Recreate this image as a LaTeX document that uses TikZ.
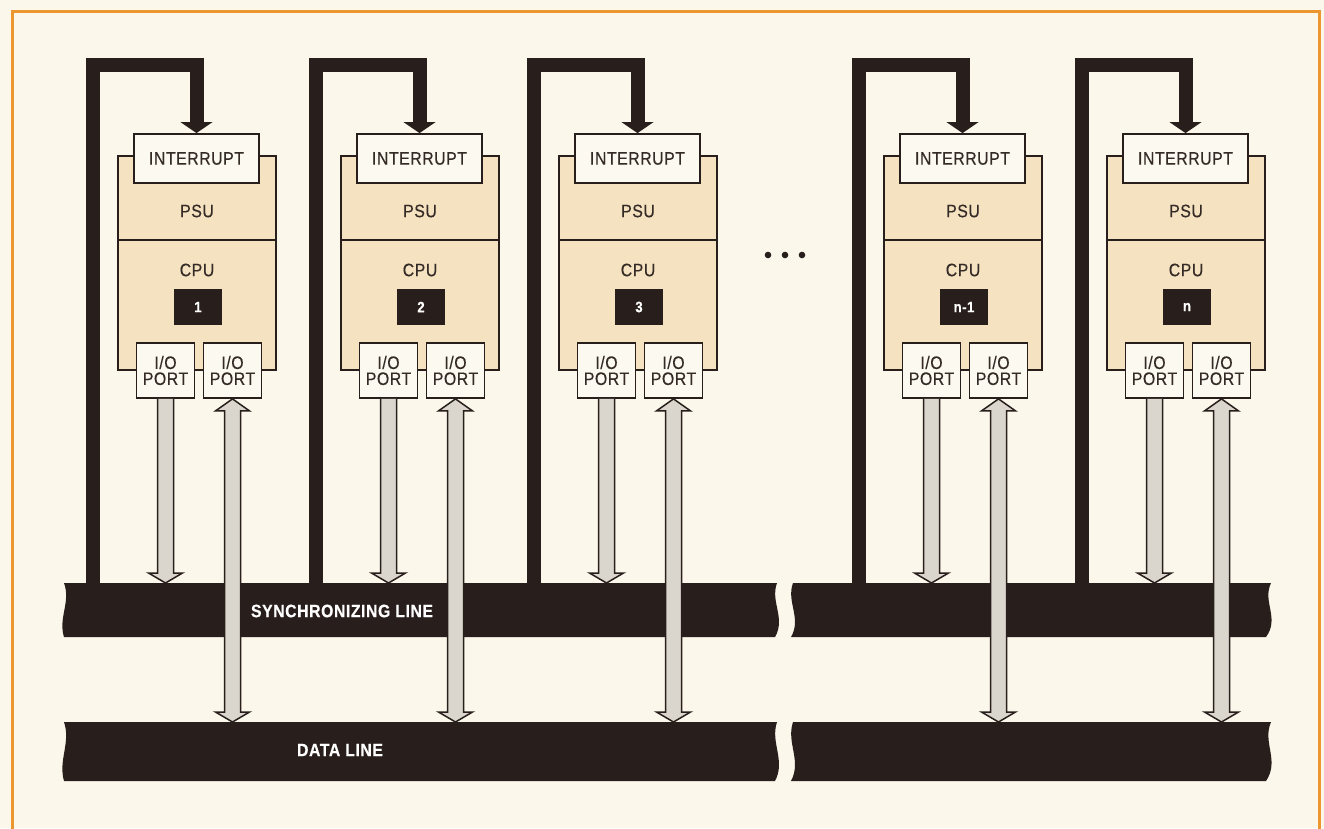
\documentclass[tikz,border=0pt]{standalone}
\usepackage{fontspec}
\setmainfont{Liberation Sans}[FakeStretch=0.88,LetterSpace=3,FakeBold=0.35]
\usetikzlibrary{calc}
\definecolor{paper}{RGB}{251,247,235}
\definecolor{dark}{RGB}{40,30,27}
\definecolor{txt}{RGB}{52,42,38}
\definecolor{tan}{RGB}{245,226,192}
\definecolor{boxfill}{RGB}{252,249,240}
\definecolor{arrgray}{RGB}{218,214,205}
\definecolor{framec}{RGB}{236,150,48}
\tikzset{
  lbl/.style={font=\fontsize{18}{16}\selectfont, text=txt},
  intbox/.style={draw=dark, line width=1.8pt, fill=boxfill, minimum width=125pt, minimum height=49pt, inner sep=0pt, lbl},
  tanbox/.style={draw=dark, line width=1.8pt, fill=tan, minimum width=158pt, minimum height=214pt, inner sep=0pt},
  numbox/.style={fill=dark, text=white, minimum width=48pt, minimum height=36pt, inner sep=0pt, font=\bfseries\fontsize{15}{16}\selectfont},
  portbox/.style={draw=dark, line width=1.8pt, fill=boxfill, minimum width=58pt, minimum height=55pt, inner sep=0pt, align=center, lbl},
  loopline/.style={draw=dark, line width=14pt, line join=miter},
  fatarr/.style={draw=dark, line width=1.5pt, fill=arrgray, line join=miter},
  barlbl/.style={text=white, font=\bfseries\fontsize{18}{20}\selectfont},
  frameline/.style={draw=framec, line width=3pt},
}
% fat one-way arrow from #1 (top) down to #2 (tip)
\newcommand\fatdown[2]{%
  \path (#1) coordinate (fa) (#2) coordinate (fb);
  \draw[fatarr] ($(fa)+(-8,0)$) -- ($(fb)+(-8,-10)$) -- ($(fb)+(-17,-10)$) -- (fb)
     -- ($(fb)+(17,-10)$) -- ($(fb)+(8,-10)$) -- ($(fa)+(8,0)$);}
% fat two-way arrow between #1 (top tip) and #2 (bottom tip)
\newcommand\fatboth[2]{%
  \path (#1) coordinate (fa) (#2) coordinate (fb);
  \draw[fatarr] (fa) -- ($(fa)+(17,12)$) -- ($(fa)+(8,12)$) -- ($(fb)+(8,-10)$) -- ($(fb)+(17,-10)$)
     -- (fb) -- ($(fb)+(-17,-10)$) -- ($(fb)+(-8,-10)$) -- ($(fa)+(-8,12)$) -- ($(fa)+(-17,12)$) -- cycle;}
% bus bar with break: #1 top y, #2 bottom y
\newcommand\busbar[2]{%
  \fill[dark] (64,#1) -- (777,#1)
     .. controls (770,{#1+0.35*(#2-#1)}) and (786,{#1+0.65*(#2-#1)}) .. (775,#2)
     -- (64,#2)
     .. controls (58,{#1+0.65*(#2-#1)}) and (71,{#1+0.35*(#2-#1)}) .. (64,#1) -- cycle;
  \fill[dark] (793,#1)
     .. controls (786,{#1+0.35*(#2-#1)}) and (802,{#1+0.65*(#2-#1)}) .. (791,#2)
     -- (1266,#2)
     .. controls (1280,{#1+0.65*(#2-#1)}) and (1262,{#1+0.35*(#2-#1)}) .. (1271,#1) -- cycle;}
\begin{document}
\begin{tikzpicture}[x=1pt,y=-1pt]
\useasboundingbox (0,0) rectangle (1324,828);
\fill[paper] (0,0) rectangle (1324,828);
\draw[frameline] (12,830) -- (12,11) -- (1319,11) -- (1319,830);

% bus bars
\busbar{583}{637}
\busbar{722}{781}
\coordinate (syncT) at (0,583);
\coordinate (dataT) at (0,722);
\node[barlbl] (synclbl) at (342,611) {SYNCHRONIZING LINE};
\node[barlbl] (datalbl) at (340,750) {DATA LINE};

% dots
\fill[dark] (768,255) circle (3.3pt) (785,255) circle (3.3pt) (802,255) circle (3.3pt);

\foreach \bx/\lab/\i in {134/1/a, 357/2/b, 575/3/c, 900/n-1/d, 1123/n/e}{
  \node[tanbox] (tan\i) at (\bx+63,263) {};
  \draw[dark, line width=1.8pt] (tan\i.west |- 0,240) -- (tan\i.east |- 0,240);
  \node[lbl] (psu\i) at (\bx+63,211) {PSU};
  \node[lbl] (cpu\i) at (\bx+63,270) {CPU};
  \node[numbox] (num\i) at (\bx+64,307) {\lab};
  \node[intbox] (int\i) at (\bx+62.5,158.5) {INTERRUPT};
  \node[portbox] (pl\i) at (\bx+31.5,370.5) {I/O\\PORT};
  \node[portbox] (pr\i) at (\bx+98.5,370.5) {I/O\\PORT};
  % interrupt loop from synchronizing line
  \coordinate (ls\i) at (\bx-41,583);
  \draw[loopline] (ls\i) |- ($(int\i.north)+(0,-68)$) -- ($(int\i.north)+(0,-10)$);
  \fill[dark] ($(int\i.north)+(-16,-11)$) -- ($(int\i.north)+(16,-11)$) -- (int\i.north) -- cycle;
  % port arrows
  \fatdown{pl\i.south}{pl\i.south |- syncT}
  \fatboth{pr\i.south}{pr\i.south |- dataT}
}
\end{tikzpicture}
\end{document}
